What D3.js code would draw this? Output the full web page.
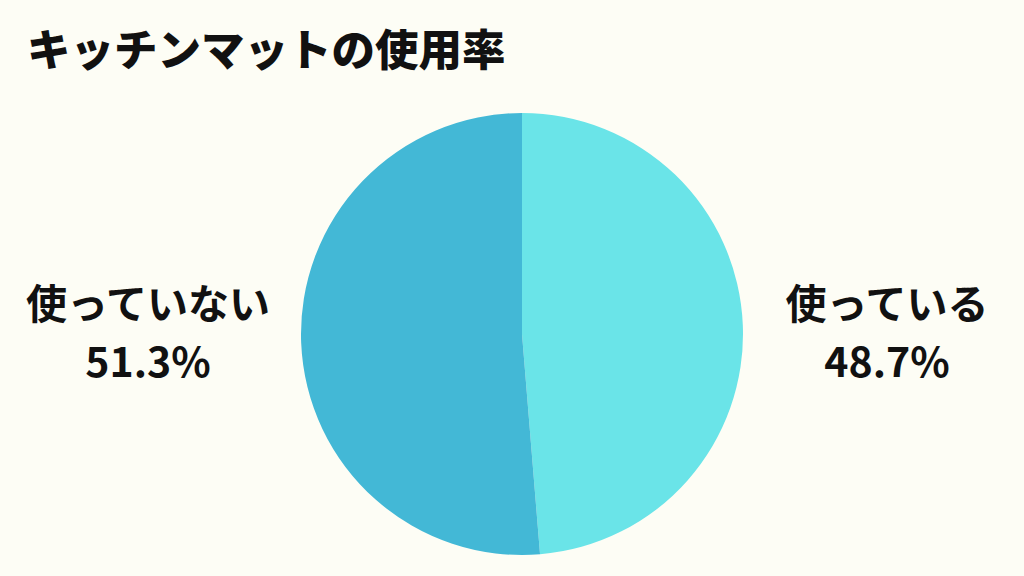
<!DOCTYPE html>
<html><head><meta charset="utf-8">
<script src="https://cdn.jsdelivr.net/npm/d3@7"></script>
<style>html,body{margin:0;padding:0;background:#fdfdf5;}svg{display:block;}</style>
</head><body>
<script>
const title = "キッチンマットの使用率";
const categories = ["使っている", "使っていない"];
const values = [48.7, 51.3];
const valueLabels = ["48.7%", "51.3%"];
const colors = ["#6ae4e8", "#43b8d6"];

const W = 1024, H = 576;
const svg = d3.select("body").append("svg").attr("width", W).attr("height", H);
svg.append("rect").attr("width", W).attr("height", H).attr("fill", "#fdfdf5");

const font = "'Noto Sans CJK JP', 'Noto Sans', sans-serif";
svg.append("text").attr("x", 27).attr("y", 66)
  .attr("font-family", font).attr("font-weight", 900).attr("font-size", 43.5)
  .attr("fill", "#111").text(title);

const cx = 522, cy = 334, r = 221;
const pie = d3.pie().sort(null).value(d => d)(values);
const arc = d3.arc().innerRadius(0).outerRadius(r);
const g = svg.append("g").attr("transform", `translate(${cx},${cy})`);
g.selectAll("path").data(pie).join("path")
  .attr("d", arc).attr("fill", (d, i) => colors[i]);

const labelX = [887, 148];
categories.forEach((c, i) => {
  const t = svg.append("text").attr("text-anchor", "middle")
    .attr("font-family", font).attr("font-weight", 700).attr("font-size", 41).attr("fill", "#111");
  t.append("tspan").attr("x", labelX[i]).attr("y", 319).text(c);
  t.append("tspan").attr("x", labelX[i]).attr("y", 377).text(valueLabels[i]);
});
</script>
</body></html>
